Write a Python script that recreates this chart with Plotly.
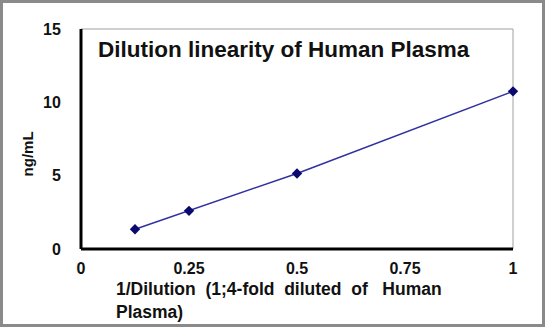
import plotly.graph_objects as go

x_vals = [0.125, 0.25, 0.5, 1.0]
y_vals = [1.35, 2.6, 5.15, 10.75]
x_ticks = [0, 0.25, 0.5, 0.75, 1]
x_tick_labels = ["0", "0.25", "0.5", "0.75", "1"]
y_ticks = [0, 5, 10, 15]
y_tick_labels = ["0", "5", "10", "15"]

W, H = 545, 327
L, R, T, B = 81, 32, 29, 78
pw, ph = W - L - R, H - T - B

font = "Liberation Sans, Arial, sans-serif"

fig = go.Figure()
fig.add_trace(go.Scatter(
    x=x_vals, y=y_vals, mode="lines+markers",
    line=dict(color="#3030a0", width=1.5),
    marker=dict(symbol="diamond", size=8, color="#0a0a6e"),
    cliponaxis=False, showlegend=False,
))

fig.update_layout(
    width=W, height=H,
    margin=dict(l=L, r=R, t=T, b=B),
    paper_bgcolor="white", plot_bgcolor="white",
    font=dict(family=font, size=16, color="#111111"),
    xaxis=dict(range=[0, 1], tickvals=x_ticks, ticktext=x_tick_labels,
               showgrid=False, zeroline=False, showline=False,
               ticks="outside", ticklen=5, tickcolor="rgba(0,0,0,0)",
               tickfont=dict(family=font, size=16, color="#111111", weight="bold")),
    yaxis=dict(range=[0, 15], tickvals=y_ticks, ticktext=y_tick_labels,
               showgrid=False, zeroline=False, showline=False,
               ticks="outside", ticklen=16, tickcolor="rgba(0,0,0,0)",
               tickfont=dict(family=font, size=16, color="#111111", weight="bold")),
)

# plot frame: thin gray top/right, thick black left/bottom
fig.add_shape(type="rect", xref="paper", yref="paper", x0=0, x1=1, y0=0, y1=1,
              line=dict(color="#a0a0a0", width=1), layer="below")
fig.add_shape(type="line", xref="paper", yref="paper", x0=0, x1=0, y0=0, y1=1,
              line=dict(color="#000000", width=3))
fig.add_shape(type="line", xref="paper", yref="paper", x0=0, x1=1, y0=0, y1=0,
              line=dict(color="#000000", width=3))

# outer border
fig.add_shape(type="rect", xref="paper", yref="paper",
              x0=-(L - 1.5) / pw, x1=(pw + R - 1.5) / pw,
              y0=-(B - 1.5) / ph, y1=(ph + T - 1.5) / ph,
              line=dict(color="#8a8a8a", width=3))

fig.add_annotation(xref="paper", yref="paper", x=15 / pw, y=1 - 20 / ph,
                   xanchor="left", yanchor="middle", showarrow=False,
                   text="<b>Dilution linearity of Human Plasma</b>",
                   font=dict(family=font, size=22.5, color="#111111"))

fig.add_annotation(xref="paper", yref="paper", x=-(L - 27) / pw, y=0.43,
                   xanchor="center", yanchor="middle", showarrow=False, textangle=-90,
                   text="<b>ng/mL</b>", font=dict(family=font, size=15, color="#111111"))

nb = "\u00a0"
sp = nb * 2
xt = (f"<b>1/Dilution{sp}(1;4-fold{sp}diluted{sp}of{sp}{nb}Human</b><br><b>Plasma)</b>")
fig.add_annotation(xref="paper", yref="paper", x=(114 - L) / pw, y=-(277 - T - ph) / ph,
                   xanchor="left", yanchor="top", showarrow=False, align="left",
                   text=xt, font=dict(family=font, size=17.5, color="#111111"))

fig.write_html("out.html")
